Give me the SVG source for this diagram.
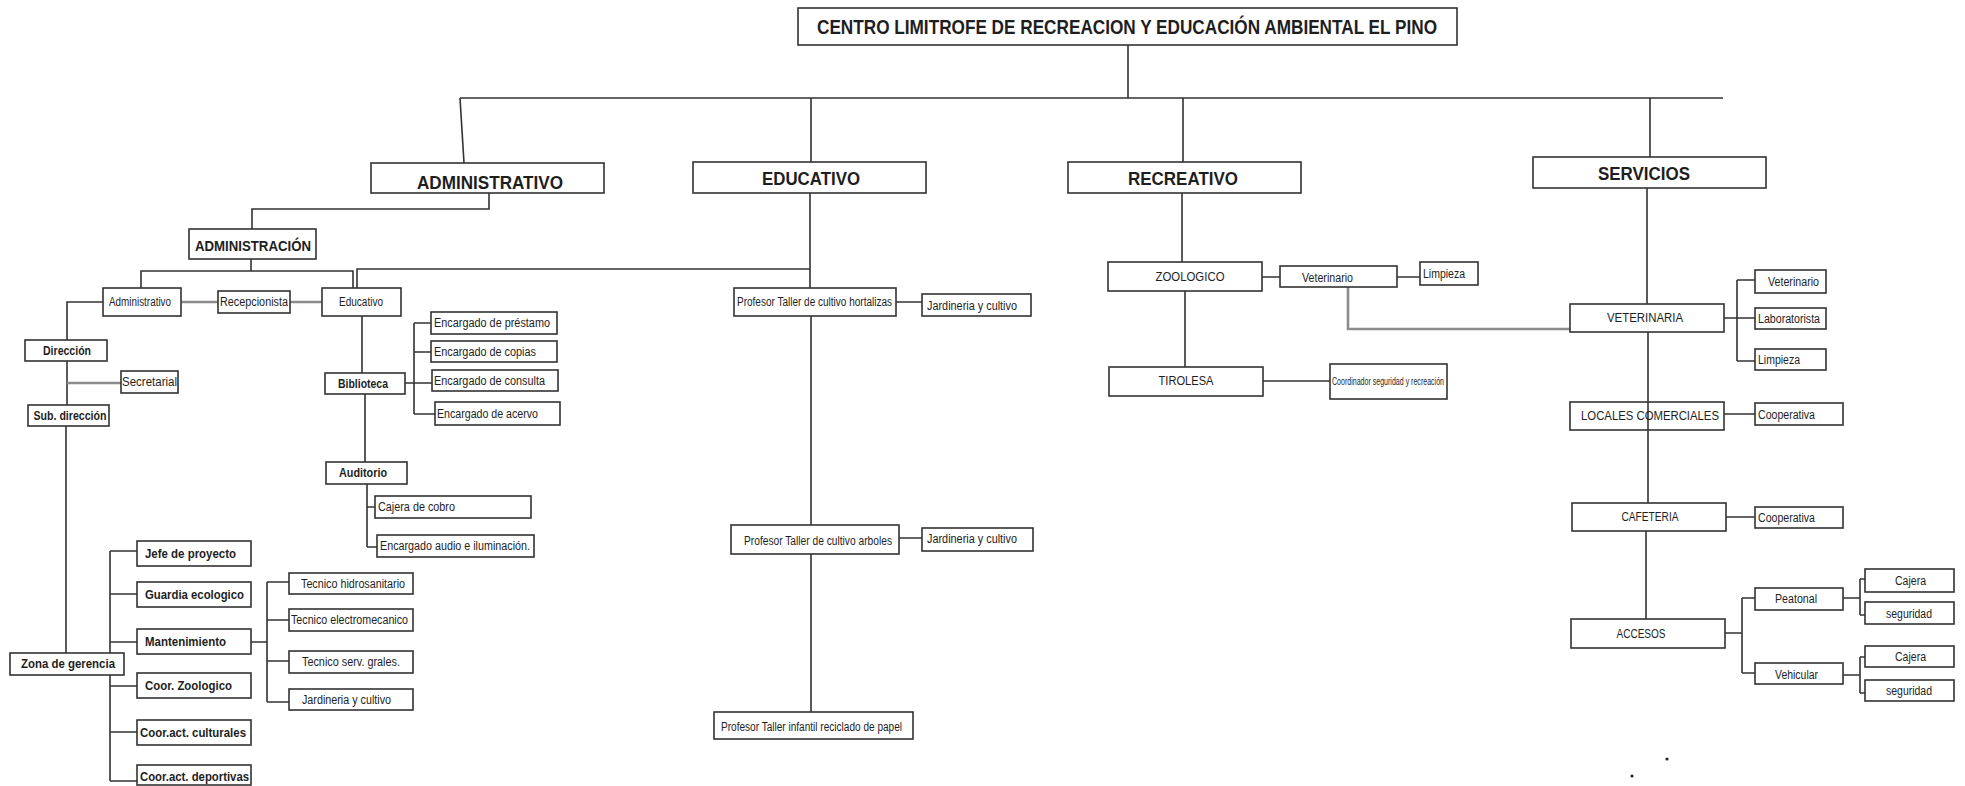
<svg xmlns="http://www.w3.org/2000/svg" width="1965" height="786" viewBox="0 0 1965 786">
<style>
rect{fill:#fff;stroke:#333;stroke-width:1.6}
.c path{fill:none;stroke:#333;stroke-width:1.6}
.c path.g{stroke:#8c8c8c;stroke-width:2.6}
text{font-family:"Liberation Sans",Arial,sans-serif;fill:#1e1e1e}
.t{font-size:21px;font-weight:bold}
.h{font-size:19px;font-weight:bold}
.m{font-size:15px;font-weight:bold}
.s{font-size:12px}
.sb{font-size:12px;font-weight:bold}
.xs{font-size:10px}
.mid{text-anchor:middle}
</style>
<rect x="0" y="0" width="1965" height="786" style="fill:#fff;stroke:none"/>
<g id="connectors" class="c">
<path d="M1128 45V98M460 98H1723M460 98L464 163M811 98V162M1183 98V162M1650 98V157"/>
<path d="M489 193V209H252V229M251 259V271M141 288V271H353V288M357 288V269H810M810 193V288"/>
<path d="M103 302H67V340M67 361V405M66 426V653"/>
<path d="M110 551V781M110 551H137M110 594H137M110 642H137M110 686H137M110 732H137M110 781H137"/>
<path d="M251 642H267M267 582V702M267 582H289M267 620H289M267 661H289M267 702H289"/>
<path d="M362 316V373M405 383H414M414 323V414M414 323H431M414 352H431M414 383H432M414 414H435"/>
<path d="M365 394V462M367 484V547M367 507H375M367 547H377"/>
<path d="M896 302H922M811 316V525M899 538H922M811 554V712"/>
<path d="M1182 193V262M1262 277H1280M1397 277H1420M1185 291V367M1263 381H1330"/>
<path d="M1647 188V304M1648 332V503M1646 531V619"/>
<path d="M1724 318H1737M1737 280V361M1737 280H1755M1737 318H1755M1737 361H1755M1724 414H1755M1726 517H1755"/>
<path d="M1725 633H1742M1742 598V673M1742 598H1755M1742 673H1755"/>
<path d="M1843 598H1860M1860 579V615M1860 579H1865M1860 615H1865M1843 675H1860M1860 657V693M1860 657H1865M1860 693H1865"/>
<path class="g" d="M181 302H218M290 302H322M67 383H121M1348 287V329H1570"/>
</g>
<g id="n-title"><rect x="798" y="8" width="659" height="37"/><text class="t mid" x="1127" y="34" textLength="620" lengthAdjust="spacingAndGlyphs">CENTRO LIMITROFE DE RECREACION Y EDUCACIÓN AMBIENTAL EL PINO</text></g>
<g id="n-administrativo"><rect x="371" y="163" width="233" height="30"/><text class="h mid" x="490" y="189" textLength="146" lengthAdjust="spacingAndGlyphs">ADMINISTRATIVO</text></g>
<g id="n-educativo"><rect x="693" y="162" width="233" height="31"/><text class="h mid" x="811" y="185" textLength="98" lengthAdjust="spacingAndGlyphs">EDUCATIVO</text></g>
<g id="n-recreativo"><rect x="1068" y="162" width="233" height="31"/><text class="h mid" x="1183" y="185" textLength="110" lengthAdjust="spacingAndGlyphs">RECREATIVO</text></g>
<g id="n-servicios"><rect x="1533" y="157" width="233" height="31"/><text class="h mid" x="1644" y="180" textLength="92" lengthAdjust="spacingAndGlyphs">SERVICIOS</text></g>
<g id="n-administracion"><rect x="189" y="229" width="127" height="30"/><text class="m mid" x="253" y="251" textLength="116" lengthAdjust="spacingAndGlyphs">ADMINISTRACIÓN</text></g>
<g id="n-adm-administrativo"><rect x="103" y="288" width="78" height="28"/><text class="s mid" x="140" y="306" textLength="62" lengthAdjust="spacingAndGlyphs">Administrativo</text></g>
<g id="n-recepcionista"><rect x="218" y="291" width="72" height="22"/><text class="s" x="220" y="306" textLength="68" lengthAdjust="spacingAndGlyphs">Recepcionista</text></g>
<g id="n-adm-educativo"><rect x="322" y="288" width="79" height="28"/><text class="s mid" x="361" y="306" textLength="44" lengthAdjust="spacingAndGlyphs">Educativo</text></g>
<g id="n-direccion"><rect x="25" y="340" width="82" height="21"/><text class="sb mid" x="67" y="355" textLength="48" lengthAdjust="spacingAndGlyphs">Dirección</text></g>
<g id="n-secretarial"><rect x="121" y="371" width="57" height="22"/><text class="s" x="122" y="386" textLength="55" lengthAdjust="spacingAndGlyphs">Secretarial</text></g>
<g id="n-subdireccion"><rect x="28" y="405" width="81" height="21"/><text class="sb mid" x="70" y="420" textLength="73" lengthAdjust="spacingAndGlyphs">Sub. dirección</text></g>
<g id="n-zona"><rect x="10" y="653" width="114" height="22"/><text class="sb mid" x="68" y="668" textLength="94" lengthAdjust="spacingAndGlyphs">Zona de gerencia</text></g>
<g id="n-jefe"><rect x="137" y="541" width="114" height="25"/><text class="sb" x="145" y="558" textLength="91" lengthAdjust="spacingAndGlyphs">Jefe de proyecto</text></g>
<g id="n-guardia"><rect x="137" y="582" width="114" height="25"/><text class="sb" x="145" y="599" textLength="99" lengthAdjust="spacingAndGlyphs">Guardia ecologico</text></g>
<g id="n-mantenimiento"><rect x="137" y="629" width="114" height="25"/><text class="sb" x="145" y="646" textLength="81" lengthAdjust="spacingAndGlyphs">Mantenimiento</text></g>
<g id="n-coor-zoo"><rect x="137" y="673" width="114" height="25"/><text class="sb" x="145" y="690" textLength="87" lengthAdjust="spacingAndGlyphs">Coor. Zoologico</text></g>
<g id="n-coor-cult"><rect x="137" y="720" width="114" height="25"/><text class="sb" x="140" y="737" textLength="106" lengthAdjust="spacingAndGlyphs">Coor.act. culturales</text></g>
<g id="n-coor-dep"><rect x="137" y="765" width="114" height="20"/><text class="sb" x="140" y="781" textLength="109" lengthAdjust="spacingAndGlyphs">Coor.act. deportivas</text></g>
<g id="n-tec-hidro"><rect x="289" y="573" width="124" height="21"/><text class="s" x="301" y="588" textLength="104" lengthAdjust="spacingAndGlyphs">Tecnico hidrosanitario</text></g>
<g id="n-tec-electro"><rect x="289" y="609" width="124" height="22"/><text class="s" x="291" y="624" textLength="117" lengthAdjust="spacingAndGlyphs">Tecnico electromecanico</text></g>
<g id="n-tec-serv"><rect x="289" y="651" width="124" height="22"/><text class="s" x="302" y="666" textLength="98" lengthAdjust="spacingAndGlyphs">Tecnico serv. grales.</text></g>
<g id="n-jard-adm"><rect x="289" y="689" width="124" height="21"/><text class="s" x="302" y="704" textLength="89" lengthAdjust="spacingAndGlyphs">Jardineria y cultivo</text></g>
<g id="n-biblioteca"><rect x="325" y="373" width="80" height="21"/><text class="sb mid" x="363" y="388" textLength="50" lengthAdjust="spacingAndGlyphs">Biblioteca</text></g>
<g id="n-prestamo"><rect x="431" y="312" width="126" height="22"/><text class="s" x="434" y="327" textLength="116" lengthAdjust="spacingAndGlyphs">Encargado de préstamo</text></g>
<g id="n-copias"><rect x="431" y="341" width="126" height="21"/><text class="s" x="434" y="356" textLength="102" lengthAdjust="spacingAndGlyphs">Encargado de copias</text></g>
<g id="n-consulta"><rect x="432" y="370" width="126" height="21"/><text class="s" x="434" y="385" textLength="111" lengthAdjust="spacingAndGlyphs">Encargado de consulta</text></g>
<g id="n-acervo"><rect x="435" y="402" width="125" height="23"/><text class="s" x="437" y="418" textLength="101" lengthAdjust="spacingAndGlyphs">Encargado de acervo</text></g>
<g id="n-auditorio"><rect x="326" y="462" width="81" height="22"/><text class="sb mid" x="363" y="477" textLength="48" lengthAdjust="spacingAndGlyphs">Auditorio</text></g>
<g id="n-cajera-cobro"><rect x="375" y="496" width="156" height="22"/><text class="s" x="378" y="511" textLength="77" lengthAdjust="spacingAndGlyphs">Cajera de cobro</text></g>
<g id="n-audio"><rect x="377" y="535" width="157" height="22"/><text class="s" x="380" y="550" textLength="150" lengthAdjust="spacingAndGlyphs">Encargado audio e iluminación.</text></g>
<g id="n-hortalizas"><rect x="734" y="288" width="162" height="28"/><text class="s" x="737" y="306" textLength="155" lengthAdjust="spacingAndGlyphs">Profesor Taller de cultivo hortalizas</text></g>
<g id="n-jard-1"><rect x="922" y="294" width="109" height="22"/><text class="s" x="927" y="310" textLength="90" lengthAdjust="spacingAndGlyphs">Jardineria y cultivo</text></g>
<g id="n-arboles"><rect x="731" y="525" width="168" height="29"/><text class="s" x="744" y="545" textLength="148" lengthAdjust="spacingAndGlyphs">Profesor Taller de cultivo arboles</text></g>
<g id="n-jard-2"><rect x="922" y="528" width="111" height="23"/><text class="s" x="927" y="543" textLength="90" lengthAdjust="spacingAndGlyphs">Jardineria y cultivo</text></g>
<g id="n-reciclado"><rect x="714" y="712" width="199" height="27"/><text class="s" x="721" y="731" textLength="181" lengthAdjust="spacingAndGlyphs">Profesor Taller infantil reciclado de papel</text></g>
<g id="n-zoologico"><rect x="1108" y="262" width="154" height="29"/><text class="s mid" x="1190" y="281" textLength="69" lengthAdjust="spacingAndGlyphs">ZOOLOGICO</text></g>
<g id="n-vet-zoo"><rect x="1280" y="266" width="117" height="21"/><text class="s" x="1302" y="282" textLength="51" lengthAdjust="spacingAndGlyphs">Veterinario</text></g>
<g id="n-limp-zoo"><rect x="1420" y="262" width="58" height="23"/><text class="s" x="1423" y="278" textLength="42" lengthAdjust="spacingAndGlyphs">Limpieza</text></g>
<g id="n-tirolesa"><rect x="1109" y="367" width="154" height="29"/><text class="s mid" x="1186" y="385" textLength="55" lengthAdjust="spacingAndGlyphs">TIROLESA</text></g>
<g id="n-coordinador"><rect x="1330" y="364" width="117" height="35"/><text class="xs" x="1332" y="385" textLength="112" lengthAdjust="spacingAndGlyphs">Coordinador seguridad y recreación</text></g>
<g id="n-veterinaria"><rect x="1570" y="304" width="154" height="28"/><text class="s mid" x="1645" y="322" textLength="76" lengthAdjust="spacingAndGlyphs">VETERINARIA</text></g>
<g id="n-vet-serv"><rect x="1755" y="270" width="71" height="23"/><text class="s" x="1768" y="286" textLength="51" lengthAdjust="spacingAndGlyphs">Veterinario</text></g>
<g id="n-laboratorista"><rect x="1755" y="308" width="71" height="21"/><text class="s" x="1758" y="323" textLength="62" lengthAdjust="spacingAndGlyphs">Laboratorista</text></g>
<g id="n-limp-serv"><rect x="1755" y="349" width="71" height="21"/><text class="s" x="1758" y="364" textLength="42" lengthAdjust="spacingAndGlyphs">Limpieza</text></g>
<g id="n-locales"><rect x="1570" y="402" width="154" height="28" style="fill:none"/><text class="s" x="1581" y="420" textLength="138" lengthAdjust="spacingAndGlyphs">LOCALES COMERCIALES</text></g>
<g id="n-coop-1"><rect x="1755" y="403" width="88" height="22"/><text class="s" x="1758" y="419" textLength="57" lengthAdjust="spacingAndGlyphs">Cooperativa</text></g>
<g id="n-cafeteria"><rect x="1572" y="503" width="154" height="28"/><text class="s mid" x="1650" y="521" textLength="57" lengthAdjust="spacingAndGlyphs">CAFETERIA</text></g>
<g id="n-coop-2"><rect x="1755" y="507" width="88" height="21"/><text class="s" x="1758" y="522" textLength="57" lengthAdjust="spacingAndGlyphs">Cooperativa</text></g>
<g id="n-accesos"><rect x="1571" y="619" width="154" height="29"/><text class="s mid" x="1641" y="638" textLength="49" lengthAdjust="spacingAndGlyphs">ACCESOS</text></g>
<g id="n-peatonal"><rect x="1755" y="588" width="88" height="22"/><text class="s" x="1775" y="603" textLength="42" lengthAdjust="spacingAndGlyphs">Peatonal</text></g>
<g id="n-vehicular"><rect x="1755" y="663" width="88" height="21"/><text class="s" x="1775" y="679" textLength="43" lengthAdjust="spacingAndGlyphs">Vehicular</text></g>
<g id="n-cajera-1"><rect x="1865" y="569" width="89" height="23"/><text class="s" x="1895" y="585" textLength="31" lengthAdjust="spacingAndGlyphs">Cajera</text></g>
<g id="n-seg-1"><rect x="1865" y="602" width="89" height="22"/><text class="s" x="1886" y="618" textLength="46" lengthAdjust="spacingAndGlyphs">seguridad</text></g>
<g id="n-cajera-2"><rect x="1865" y="646" width="89" height="21"/><text class="s" x="1895" y="661" textLength="31" lengthAdjust="spacingAndGlyphs">Cajera</text></g>
<g id="n-seg-2"><rect x="1865" y="680" width="89" height="21"/><text class="s" x="1886" y="695" textLength="46" lengthAdjust="spacingAndGlyphs">seguridad</text></g>
<circle cx="1667" cy="759" r="1.6" fill="#222"/>
<circle cx="1632" cy="776" r="1.6" fill="#222"/>
</svg>
